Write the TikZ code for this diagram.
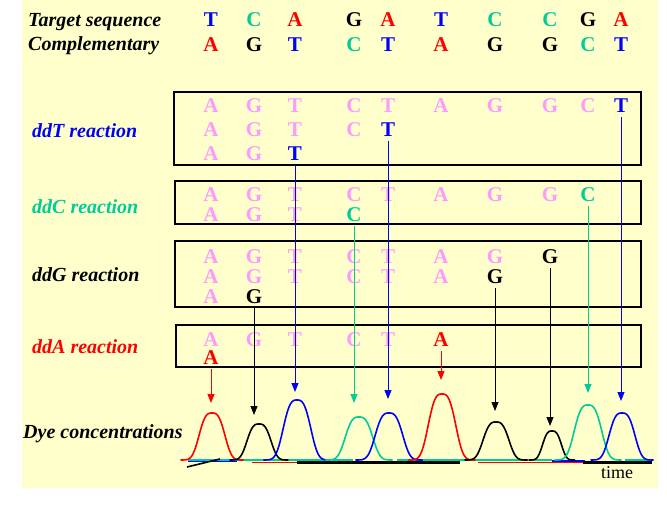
\documentclass[tikz,border=0pt]{standalone}
\usepackage{fontspec}
\setmainfont{Liberation Serif}
\usetikzlibrary{arrows.meta}
\definecolor{bgY}{HTML}{FFFFCC}
\definecolor{pinkL}{HTML}{FF99FF}
\definecolor{gr}{HTML}{00CC99}
\definecolor{bl}{HTML}{0000FF}
\definecolor{rd}{HTML}{FF0000}
\newcommand\seqrow[3]{%
  \foreach \ltr/\clr [count=\i] in {#3} {\node[nt,text=\clr] (#1\i) at (col\i |- 0,#2) {\ltr};}}
\begin{document}
\begin{tikzpicture}[x=1pt,y=-1pt,
  nt/.style={inner sep=0pt,anchor=base,font=\bfseries\fontsize{21}{21}\selectfont,text height=13pt,text depth=0pt},
  lab/.style={inner sep=0pt,anchor=base west,font=\bfseries\itshape\fontsize{20}{20}\selectfont},
  box/.style={draw=black,line width=1.4pt},
  conn/.style={line width=0.9pt,-{Triangle[width=7pt,length=9pt]},shorten <=5pt},
  peakln/.style={line width=1.6pt},
  baseln/.style={line width=1.6pt}]
\useasboundingbox (0,0) rectangle (667,522);
\fill[white] (0,0) rectangle (667,522);
\fill[bgY] (22,0) rectangle (658,488);
% columns
\foreach \x [count=\i] in {211,254,295,354,388,441,495,550,588,621}
  \coordinate (col\i) at (\x,0);
% labels
\node[lab] (ltg) at (28,26) {Target sequence};
\node[lab] (lcp) at (28,50) {Complementary};
\node[lab,text=bl] (lddT) at (32,137) {ddT reaction};
\node[lab,text=gr] (lddC) at (32,213) {ddC reaction};
\node[lab] (lddG) at (32,281) {ddG reaction};
\node[lab,text=rd] (lddA) at (32,353) {ddA reaction};
\node[lab] (ldye) at (23,438) {Dye concentrations};
% top sequences
\seqrow{tg}{27}{T/bl,C/gr,A/rd,G/black,A/rd,T/bl,C/gr,C/gr,G/black,A/rd}
\seqrow{cp}{51}{A/rd,G/black,T/bl,C/gr,T/bl,A/rd,G/black,G/black,C/gr,T/bl}
% boxes
\draw[box] (174,92) rectangle (641,165);
\draw[box] (175,181) rectangle (641,224);
\draw[box] (175,241) rectangle (641,307);
\draw[box] (176,325) rectangle (641,367);
% ddT
\seqrow{tA}{112}{A/pinkL,G/pinkL,T/pinkL,C/pinkL,T/pinkL,A/pinkL,G/pinkL,G/pinkL,C/pinkL,T/bl}
\seqrow{tB}{136}{A/pinkL,G/pinkL,T/pinkL,C/pinkL,T/bl}
\seqrow{tC}{160}{A/pinkL,G/pinkL,T/bl}
% ddC
\seqrow{cA}{201}{A/pinkL,G/pinkL,T/pinkL,C/pinkL,T/pinkL,A/pinkL,G/pinkL,G/pinkL,C/gr}
\seqrow{cB}{221}{A/pinkL,G/pinkL,T/pinkL,C/gr}
% ddG
\seqrow{gA}{263}{A/pinkL,G/pinkL,T/pinkL,C/pinkL,T/pinkL,A/pinkL,G/pinkL,G/black}
\seqrow{gB}{283}{A/pinkL,G/pinkL,T/pinkL,C/pinkL,T/pinkL,A/pinkL,G/black}
\seqrow{gC}{303}{A/pinkL,G/black}
% ddA
\seqrow{aA}{346}{A/pinkL,G/pinkL,T/pinkL,C/pinkL,T/pinkL,A/rd}
\seqrow{aB}{364}{A/rd}
% baseline segments
\draw[baseln,bl] (188,461) -- (237,461);
\draw[baseln,bl] (552,461) -- (585,461);
\draw[baseln,rd] (252,462.5) -- (297,462.5);
\draw[baseln,rd] (353,462.5) -- (372,462.5);
\draw[baseln,rd] (478,462.5) -- (583,462.5);
\draw[line width=2.2pt,black] (297,462.5) -- (460,462.5);
\draw[line width=2.2pt,black] (583,462.5) -- (652,462.5);
\draw[baseln,gr] (188,460) -- (325,460);
\draw[baseln,gr] (332,460) -- (353,460);
\draw[baseln,gr] (397,460) -- (552,460);
\draw[baseln,gr] (625,460) -- (650,460);
\draw[line width=1.6pt,black] (187,467) -- (220,459);
% peaks
\foreach \cx/\hh/\sw/\clr in {212/47/15/rd, 259/36/14/black, 297/60/16/bl, 359/43/16/gr, 389/47/16/bl, 442/66/16/rd, 496/38/15/black, 552/29/11/black, 588/55/16/gr, 622/47/15/bl}
  \draw[peakln,\clr] plot[domain={\cx-2.1*\sw}:{\cx+2.1*\sw},samples=61]
    (\x,{460-\hh*exp(-((\x-\cx)/\sw)*((\x-\cx)/\sw)*abs((\x-\cx)/\sw))});
% arrow tips
\coordinate (p1) at (211,403);
\coordinate (p2) at (254,415);
\coordinate (p3) at (295,392);
\coordinate (p4) at (354,403);
\coordinate (p5) at (388,399);
\coordinate (p6) at (441,380);
\coordinate (p7) at (495,411);
\coordinate (p8) at (550,426);
\coordinate (p9) at (588,393);
\coordinate (p10) at (621,401);
% connectors
\draw[conn,rd] (aB1.south) -- (aB1.south |- p1);
\draw[conn,black] (gC2.south) -- (gC2.south |- p2);
\draw[conn,bl] (tC3.south) -- (tC3.south |- p3);
\draw[conn,gr] (cB4.south) -- (cB4.south |- p4);
\draw[conn,bl] (tB5.south) -- (tB5.south |- p5);
\draw[conn,rd] (aA6.south) -- (aA6.south |- p6);
\draw[conn,black] (gB7.south) -- (gB7.south |- p7);
\draw[conn,black] (gA8.south) -- (gA8.south |- p8);
\draw[conn,gr] (cA9.south) -- (cA9.south |- p9);
\draw[conn,bl] (tA10.south) -- (tA10.south |- p10);
% time
\node[inner sep=0pt,anchor=base,font=\fontsize{18}{18}\selectfont] (tm) at (617,478) {time};
\end{tikzpicture}
\end{document}
